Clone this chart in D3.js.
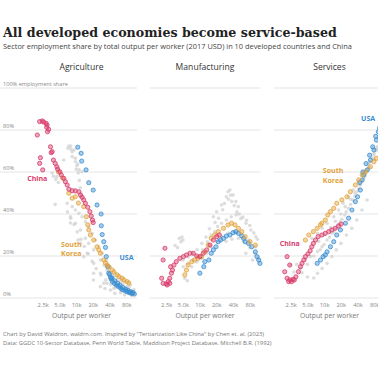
<!DOCTYPE html>
<html lang="en">
<head>
<meta charset="UTF-8">
<title>All developed economies become service-based</title>
<script src="https://cdnjs.cloudflare.com/ajax/libs/d3/7.8.5/d3.min.js"></script>
<style>
  body { margin: 0; background: #fff; overflow: hidden; }
  svg { display: block; font-family: "Open Sans", sans-serif; }
</style>
</head>
<body>
<svg id="chart" width="378" height="370"></svg>
<script>
// ---- data: [output per worker ($k, 2017 USD), employment share %] ----
const sectors = ["Agriculture", "Manufacturing", "Services"];
const xTicks = [2.5, 5, 10, 20, 40, 80];
const xTickLabels = ["2.5k", "5.0k", "10k", "20k", "40k", "80k"];
const yTicks = [0, 20, 40, 60, 80, 100];

const chinaAgri = [[2.2,84.0],[2.45,84.3],[2.6,83.8],[2.87,83.2],[3.0,82.4],[2.95,81.3],[3.2,80.3],[3.05,79.2],[2.0,77.6],
  [3.45,72.0],[3.7,69.7],[3.55,69.2],[2.27,66.8],[2.2,64.1],[2.5,61.0],[3.9,65.7],[4.2,64.1],[4.5,62.5],[4.65,61.3],
  [5.1,60.1],[5.4,58.6],[6.0,57.0],[6.4,55.4],[6.9,53.8],[7.4,51.8],[8.5,51.1],[9.7,51.0],[11.2,50.6],[12.0,49.0],
  [12.8,48.0],[13.7,46.7],[14.7,45.1],[16.2,43.2],[17.7,41.1],[18.7,39.0],[19.7,37.1],[20.3,35.9]];
const koreaAgri = [[4.8,60],[5.7,57.1],[7.4,49.9],[8.5,47.5],[9.7,48.2],[11.0,45.2],[13.7,43.5],[15.3,38.7],[16.2,34.8],
  [16.9,32.4],[18.1,30],[20.7,27.6],[23.8,24.4],[25.6,22.9],[27.4,21.3],[31.5,18.1],[33.8,16.7],[36.3,15.7],[38.8,14.8],
  [44.7,13.3],[47.8,12.4],[55,11.0],[59,10.2],[67.5,9.4],[72.5,8.6],[83,7.8],[89,7.1]];
const usaAgri = [[10.7,71.8],[12.3,68.9],[12.6,65.2],[15.1,61.0],[16.9,54.9],[20.3,51.4],[23.8,44.3],[28.2,40.0],[28.4,34.4],
  [29.5,30.2],[31.5,26.8],[33.8,24.1],[35,19.7],[37,14.9],[38.8,11.8],[41.5,9.8],[43,9.0],[45,7.9],[49,6.9],[53,6.2],
  [58,5.5],[63,4.8],[68,4.0],[74,3.6],[81,3.1],[88,2.7],[95,2.4],[103,2.1],[112,1.9],
  [40,11.2],[44,9.5],[50,8.2],[56,7.0],[62,6.0],[70,5.0],[78,4.2],[86,3.6],[96,3.0],[106,2.6]];
const otherAgri = [[7.4,72.4],[8.1,70.8],[8.5,69.7],[9.7,64.9],[10.7,63.8],[11.3,61],[12.8,60.1],[3.7,59.5],[4.5,57.8],
  [4.2,44.6],[8.5,67.3],[10.1,61.3],[6.0,65.7],[7.1,71.3],[8.0,72.4],[9.2,70.5],
  [9.7,66.5],[10.3,63],[10.9,59.5],[11.4,56],[11.9,52.5],[12.2,49.8],[3.9,58],[4.3,56.5],[4.8,55],
  [6.9,45.1],[8.5,43.5],[9.7,41.9],[11.2,40.3],[12.8,38.7],[14.7,36.3],[16.9,33.9],[19.5,30.8],[22.4,27.6],[25.6,24.4],
  [29.5,21.3],[35,18.1],[41.5,14.9],[51,11.7],[63,9.4],[77,7.8],[95,6.2],
  [7.9,38.7],[9.7,35.6],[12,32.4],[14.7,28.4],[16.9,26],[20.7,22.9],[27.4,18.1],[36,13.3],[47.8,10.1],[63,7.8],[83,5.4],
  [7.0,41],[8.0,38],[9.2,35],[10.5,31.5],[12.2,28],[14,24.5],[16.5,21],[19.5,17.5],[23,14],[28,11],[34,8.5],[42,6.5],
  [52,5],[65,4.2],[80,3.6],[100,3.2],
  [7.9,35.7],[10.8,27.6],[13.7,19.7],[20.7,11.8],[31.5,7.0],
  [12,26],[15.9,21.3],[20.7,16.5],[27.4,11.8],[36,7],[47.8,4.6],[63,3.8],[83,3.0],
  [27.4,5.4],[41.5,3.8],[63,2.5],[20.5,8.6],[33,4.5],[50,2.2],[75,1.5],[100,1.2],
  [55,8.5],[70,6.8],[90,5.0],[110,4.0],[45,10.8],[38,13],[32,15.5]];

const chinaMfg = [[2.37,23.7],[2.2,18.1],[2.07,9.4],[2.2,7.0],[2.5,6.7],[2.72,7.8],[2.9,9.4],[3.1,11.8],[3.25,13.3],
  [3.0,14.9],[2.9,7.0],[2.6,6.2],[3.45,15.7],[3.8,17.3],[4.4,18.9],[5.1,19.7],[5.8,20.5],[6.7,21.3],[7.7,21.3],
  [8.9,20.0],[10.1,19.7],[11.6,21.3],[13.4,22.9],[15.4,25.2],[17.7,27.6],[20.3,29.2],[22.7,30.0]];
const koreaMfg = [[5.4,11.0],[5.8,13.3],[6.2,15.7],[7.2,17.3],[8.1,18.1],[9.4,18.9],[10.8,19.7],[12.4,22.0],[14.3,25.2],
  [16.2,28.4],[18.7,30.0],[21.7,31.6],[26.9,33.2],[32.5,34.8],[37.5,35.6],[43.3,34.8],[50,33.2],[57.5,31.6],[66,29.2],
  [81,26.8],[101,25.2]];
const usaMfg = [[10.1,11.8],[11.9,14.9],[12.4,17.3],[14.7,18.1],[16.2,21.3],[17.7,22.9],[19.7,24.4],[21.7,26.8],[23.8,27.6],
  [26.9,28.4],[30.3,29.5],[35.2,30.0],[40,31.1],[45,31.6],[50,30.8],[57.5,29.5],[62,28.4],[66,26.8],[76,26.0],[87,24.4],
  [101,22.0],[108,19.7],[116,18.1],[122,16.5]];
const otherMfg = [[4.3,28.4],[4.6,26.8],[5.0,27.6],[5.4,9.4],[6.0,8.2],
  [5.1,14.9],[6.2,16.5],[7.6,18.1],[9.3,19.7],[11.4,22.9],[13.9,26.8],[16.0,30],[18.7,31.6],[21.2,34],[24.8,35.6],
  [30.3,37.1],[37.1,38.7],[45.5,39.5],[55.7,37.9],[68.3,35.6],[83.7,32.4],[103,29.2],
  [17.7,38.7],[20.3,41.1],[24.8,44.3],[30.3,48.2],[32.4,50.6],[35.2,51.4],[40,49],[45,45.9],[49.7,43.5],
  [7.2,14.9],[8.9,17.3],[10.9,18.9],[13.4,21.3],[16.0,24.4],[20.3,26.8],[24.8,29.2],[32.4,30.8],[43,31.6],[55.7,30.8],
  [75.3,27.6],[101,24.4],[68,21.3],[90,18.1],
  [26,42],[28,45],[33,47],[36,49],[38,46],[42,44],[47,41],[52,40],[60,38.5],[70,37],[80,34.5],[95,31],[110,28],
  [22,38],[19,36],[15,33],[13,29],[11,26],[9,23],[7.5,21],[6.2,19.5],[5,18],[4,24],[3.6,25],[4.8,29],
  [30,27],[38,28],[50,28.5],[62,27],[80,24],[100,21],[115,19]];

const chinaSvc = [[2.15,19.7],[2.4,15.7],[1.95,12.5],[2.15,9.4],[2.4,8.6],[2.6,7.8],[2.9,8.6],[3.1,10.1],[2.75,8.9],
  [2.3,7.8],[3.45,12.5],[3.75,14.9],[4.0,16.5],[4.3,18.1],[4.6,19.7],[5.1,21.0],[5.6,22.5],[6.0,24.4],[6.4,26.0],
  [7.0,27.6],[7.8,29.2],[9.1,30.0],[10.5,30.8],[12.1,31.6],[13.8,32.4],[15.8,33.2],[18.2,34.3],[20.3,35.2]];
const koreaSvc = [[4.6,27.6],[5.3,30.0],[6.4,31.6],[7.5,33.2],[8.6,34.8],[9.1,35.6],[10.5,37.1],[11.6,39.5],[13.0,41.1],
  [14.9,42.7],[16.9,45.1],[20.9,46.7],[25.8,48.2],[29.7,50.6],[36.5,53.8],[42,56.2],[48.5,58.6],[56,60.1],[68.5,62.5],
  [79,64.9],[87.6,66.5]];
const usaSvc = [[7.5,16.5],[8.6,18.1],[9.6,19.7],[10.5,20.5],[11.3,22.0],[13.0,24.4],[14.9,26.8],[16.9,30.0],[19.7,32.4],
  [24.2,35.6],[27.6,38.0],[31.7,41.9],[36.5,45.9],[40,48.2],[45,51.4],[48.5,56.2],[51.8,58.6],[60,61.0],[68.5,65.7],
  [79,70.5],[87.6,75.2],[95,79.2],[103,82.4],[44,55],[50,60],[57,64],[66,68],[75,72],[85,77],[100,81]];
const otherSvc = [[3.75,14.1],[4.6,18.1],[5.7,19.7],[7.6,22.1],[9.2,24.4],[11.3,27.6],[13.8,30.8],[16.6,33.2],[19.5,36.3],
  [23.5,39.5],[27.6,42.7],[33,46.7],[38.8,50.6],[44.9,53.8],[51.4,57],[59.5,61],[68.3,64.9],[79,68.9],[91.5,72.1],
  [6.0,28.4],[7.6,30.8],[9.2,33.2],[11.3,35.6],[14.9,38.7],[18.2,41.9],[22.0,45.1],[27.6,48.2],[33.5,51.4],[41.4,55.4],
  [51.4,60.1],[63,64.1],[79,68.1],[91.5,71.3],
  [7.6,11.8],[9.2,14.1],[11.3,16.5],[13.8,19.7],[16.6,22.9],[20.1,26],[25.2,30],[31.6,33.2],[38.8,37.1],[48,41.9],
  [59.5,46.7],[2.5,15.7],[2.85,12.4],
  [5,16],[6.5,20],[8.5,23],[10,25.5],[12.5,29],[15,31.5],[18,35],[21,37.5],[25,41],[30,44.5],[36,48.5],[42,52],
  [48,55.5],[55,59],[63,62.5],[73,66.5],[85,70.5],[100,74.5],[110,77],[4,12],[5,10],[6.5,9.5],[3.2,16],
  [8,27],[10,30],[13,33.5],[16,36.5],[20,40],[24,43.5],[30,47],[36,50],[44,54],[54,58],[66,62],[80,66],[95,70],[110,74]];

// series label positions [text, output $k, share %, series]
const labelsAgri = [["China", 2.0, 55.5, "china"], ["South", 8.2, 24.5, "korea"], ["Korea", 8.2, 19.8, "korea"], ["USA", 81, 18, "usa"]];
const labelsSvc = [["China", 2.4, 24.8, "china"], ["South", 14.5, 59.4, "korea"], ["Korea", 14.5, 54.7, "korea"], ["USA", 62, 84.5, "usa"]];

const colors = { china: "#d83b6b", korea: "#e2a23a", usa: "#3a8dd0", other: "#cfcfcf" };

const panels = [
  { title: sectors[0], other: otherAgri, usa: usaAgri, korea: koreaAgri, china: chinaAgri, labels: labelsAgri },
  { title: sectors[1], other: otherMfg, usa: usaMfg, korea: koreaMfg, china: chinaMfg, labels: [] },
  { title: sectors[2], other: otherSvc, usa: usaSvc, korea: koreaSvc, china: chinaSvc, labels: labelsSvc }
];

// ---- layout ----
const svg = d3.select("#chart");
const panelX = [26, 149.5, 274];
const panelW = 111;
const y = d3.scaleLinear().domain([0, 100]).range([298, 88]);
const x = d3.scaleLog().domain([1.25, 125]).range([0, panelW]);

svg.append("text").attr("x", 3).attr("y", 36.5)
  .attr("font-family", "'DejaVu Serif', serif").attr("font-weight", "bold")
  .attr("font-size", 12.65).attr("fill", "#222")
  .text("All developed economies become service-based");

svg.append("text").attr("x", 3).attr("y", 49)
  .attr("font-size", 7.4).attr("fill", "#444")
  .text("Sector employment share by total output per worker (2017 USD) in 10 developed countries and China");

panels.forEach((p, i) => {
  const g = svg.append("g").attr("transform", `translate(${panelX[i]},0)`);
  const gridStart = i === 0 ? -panelX[0] : 0;

  g.append("text").attr("x", panelW / 2).attr("y", 70)
    .attr("text-anchor", "middle").attr("font-size", 8.6).attr("fill", "#333")
    .text(p.title);

  g.selectAll(".grid").data(yTicks).join("line")
    .attr("x1", gridStart).attr("x2", panelW)
    .attr("y1", d => y(d)).attr("y2", d => y(d))
    .attr("stroke", "#dedede").attr("stroke-width", 0.8);

  if (i === 0) {
    svg.selectAll(".ylab").data(yTicks).join("text")
      .attr("x", 3).attr("y", d => y(d) - 2.5)
      .attr("font-size", 5.6).attr("fill", "#888")
      .text(d => d === 100 ? "100% employment share" : d + "%");
  }

  const ax = g.append("g").attr("transform", "translate(0,298)")
    .call(d3.axisBottom(x).tickValues(xTicks).tickFormat((d, k) => xTickLabels[k]).tickSize(0).tickPadding(4.5));
  ax.select(".domain").remove();
  ax.selectAll("text").attr("font-size", 5.8).attr("fill", "#888").attr("font-family", "'Open Sans', sans-serif");

  g.append("text").attr("x", panelW / 2).attr("y", 317.5)
    .attr("text-anchor", "middle").attr("font-size", 6.8).attr("fill", "#777")
    .text("Output per worker");

  g.selectAll(".other").data(p.other).join("circle")
    .attr("cx", d => x(d[0])).attr("cy", d => y(d[1])).attr("r", 1.8)
    .attr("fill", colors.other).attr("opacity", 0.7);

  ["usa", "korea", "china"].forEach(key => {
    g.selectAll(".pt-" + key).data(p[key]).join("circle")
      .attr("cx", d => x(d[0])).attr("cy", d => y(d[1])).attr("r", 2.1)
      .attr("fill", colors[key]).attr("fill-opacity", 0.45)
      .attr("stroke", colors[key]).attr("stroke-width", 0.8);
  });

  g.selectAll(".lab").data(p.labels).join("text")
    .attr("x", d => x(d[1])).attr("y", d => y(d[2]))
    .attr("text-anchor", "middle").attr("font-size", 7).attr("font-weight", "bold")
    .attr("fill", d => colors[d[3]])
    .text(d => d[0]);
});

svg.append("text").attr("x", 3).attr("y", 335.5)
  .attr("font-size", 5.8).attr("fill", "#777")
  .text("Chart by David Waldron, waldrn.com. Inspired by \"Tertiarization Like China\" by Chen et. al. (2023)");
svg.append("text").attr("x", 3).attr("y", 345)
  .attr("font-size", 5.8).attr("fill", "#777")
  .text("Data: GGDC 10-Sector Database, Penn World Table, Maddison Project Database, Mitchell B.R. (1992)");
</script>
</body>
</html>
